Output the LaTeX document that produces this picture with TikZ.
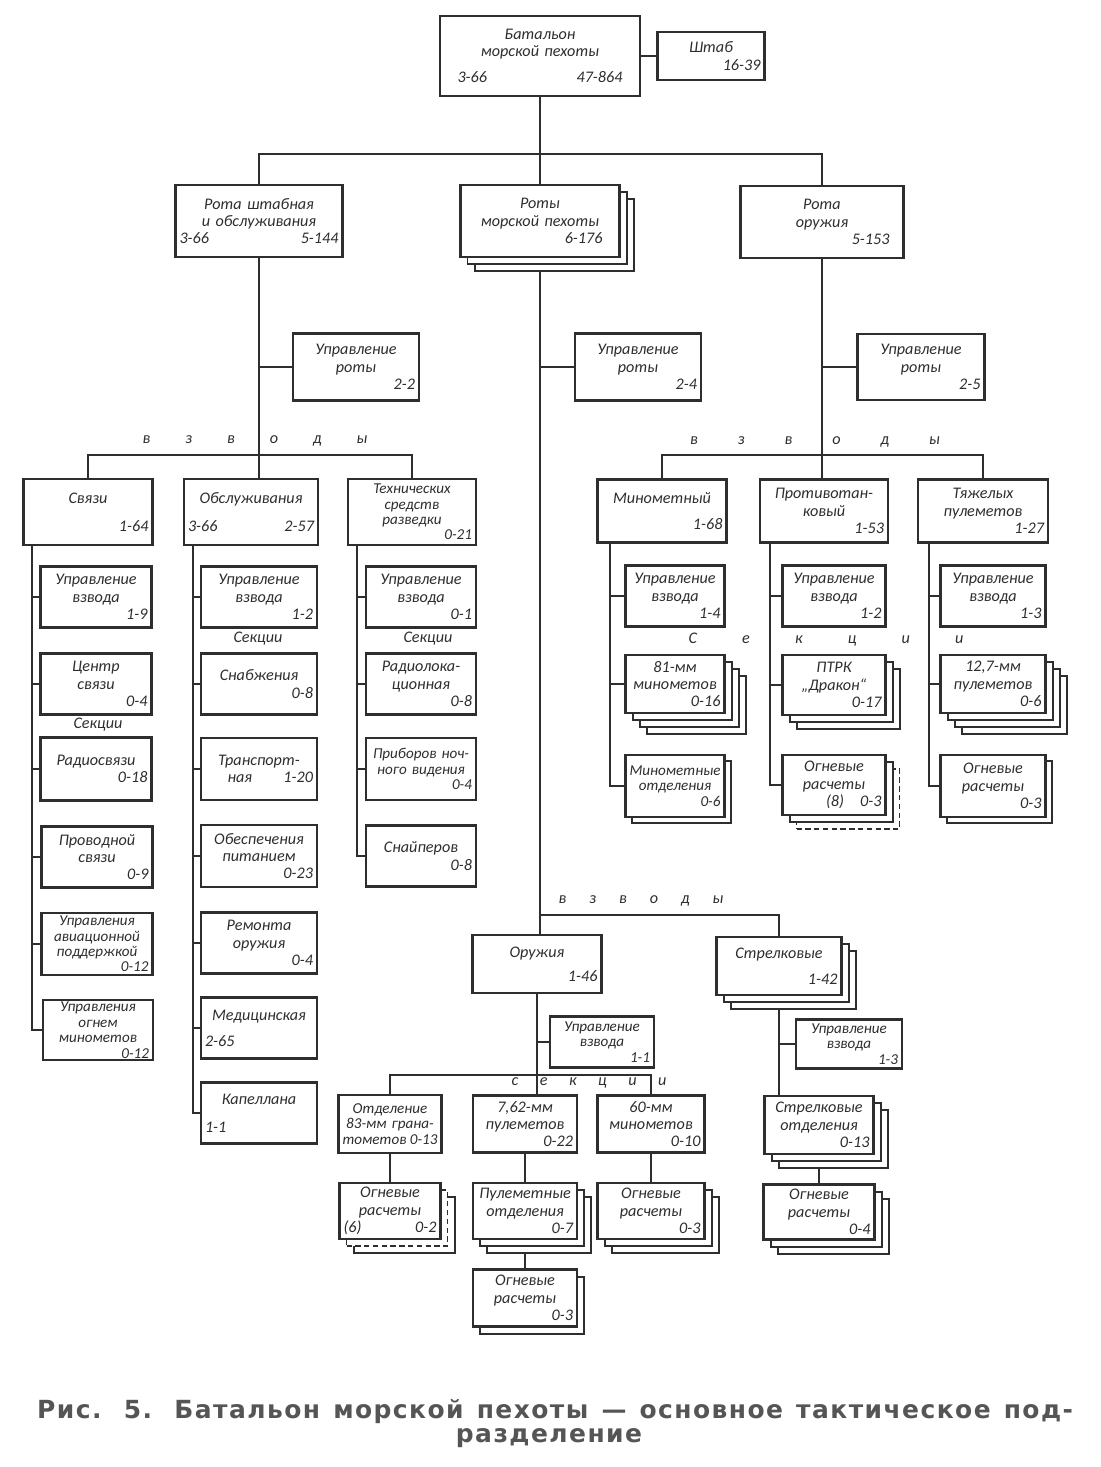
\documentclass[tikz,border=0pt]{standalone}
\usepackage{fontspec}
\setmainfont{Carlito}
\newfontfamily\capfont[LetterSpace=5.8]{DejaVu Sans}
\usepackage{tikz}
\usetikzlibrary{shadows,backgrounds}

\definecolor{ink}{HTML}{2E2E2E}
\definecolor{capgray}{HTML}{555555}
\newcommand\boxfont{\fontsize{9.2}{9.8}\selectfont\itshape}
\newcommand\tightfont{\fontsize{8.6}{8.8}\selectfont\itshape}
\newcommand\rnum{\leavevmode\hfill}

\begin{document}
\begin{tikzpicture}[
        x=0.02cm, y=-0.02cm,
        box/.style={draw=ink, line width=1.3pt, fill=white, inner sep=1pt, align=center, font=\boxfont, text=ink},
        sz/.code 2 args={\pgfmathsetmacro\bw{#1*0.02}\pgfmathsetmacro\bh{#2*0.02}\pgfmathsetmacro\tw{#1*0.02-0.16}%
            \edef\szargs{minimum width=\bw cm,minimum height=\bh cm,text width=\tw cm}\expandafter\tikzset\expandafter{\szargs}},
        lay/.style={general shadow={shadow scale=1, shadow xshift=#1, shadow yshift=-#1, draw=ink, line width=1.1pt, fill=white}},
        layd/.style={general shadow={shadow scale=1, shadow xshift=#1, shadow yshift=-#1, draw=ink, line width=1pt, dash pattern=on 3pt off 2pt, fill=white}},
        link/.style={draw=ink, line width=0.9pt},
        lett/.style={font=\boxfont, text=ink, inner sep=0pt},
        capt/.style={font=\capfont\bfseries\fontsize{14.2}{16}\selectfont, text=capgray, inner sep=0pt}
    ]
    \useasboundingbox (0,0) rectangle (1100,1467);

    % Battalion
    \node[box, sz={200}{80}, text width=3.3cm] (bat) at (540,56) {Батальон\\морской пехоты\\[5pt]3-66\hfill 47-864};
    \node[box, sz={107}{48}] (shtab) at (711,56) {Штаб\\\rnum 16-39};

    % Companies
    \node[box, sz={167}{72}] (rsh) at (259,221) {Рота штабная\\и обслуживания\\3-66\hfill 5-144};
    \node[box, sz={159}{72}, text width=2.5cm, lay=8pt, lay=4pt] (rmp) at (540,221) {Роты\\морской пехоты\\\rnum 6-176};
    \node[box, sz={163}{72}, text width=2.7cm] (ror) at (822,222) {Рота\\оружия\\\rnum 5-153};

    % Company headquarters
    \node[box, sz={126}{67}] (upr1) at (356,367) {Управление\\роты\\\rnum 2-2};
    \node[box, sz={126}{67}] (upr2) at (638,367) {Управление\\роты\\\rnum 2-4};
    \node[box, sz={127}{66}] (upr3) at (921,367) {Управление\\роты\\\rnum 2-5};

    % Platoons of the HQ company
    \node[lett] (vzl1) at (255,441) {\makebox[4.5cm][s]{в з в о д ы}};
    \node[box, sz={129}{66}] (svz) at (88,512) {Связи\\[6pt]\rnum 1-64};
    \node[box, sz={134}{66}] (obs) at (251,512) {Обслуживания\\[6pt]3-66\hfill 2-57};
    \node[box, sz={128}{66}, font=\tightfont] (tsr) at (412,512) {Технических\\средств\\разведки\\\rnum 0-21};

    % Signal platoon
    \node[box, sz={111}{61}] (s1) at (96,597) {Управление\\взвода\\\rnum 1-9};
    \node[box, sz={111}{61}] (s2) at (96,684) {Центр\\связи\\\rnum 0-4};
    \node[lett] (sek1) at (98,725) {Секции};
    \node[box, sz={111}{63}] (s3) at (96,769) {Радиосвязи\\\rnum 0-18};
    \node[box, sz={111}{61}] (s4) at (97,857) {Проводной\\связи\\\rnum 0-9};
    \node[box, sz={111}{62}, font=\tightfont] (s5) at (97,944) {Управления\\авиационной\\поддержкой\\\rnum 0-12};
    \node[box, sz={110}{60}, font=\tightfont] (s6) at (98,1030) {Управления\\огнем\\минометов\\\rnum 0-12};

    % Service platoon
    \node[box, sz={116}{61}] (o1) at (259,597) {Управление\\взвода\\\rnum 1-2};
    \node[lett] (sek2) at (258,639) {Секции};
    \node[box, sz={116}{61}] (o2) at (259,684) {Снабжения\\\rnum 0-8};
    \node[box, sz={116}{62}] (o3) at (259,769) {Транспорт-\\\hspace*{1.4em}ная\hfill 1-20};
    \node[box, sz={116}{62}] (o4) at (259,856) {Обеспечения\\питанием\\\rnum 0-23};
    \node[box, sz={116}{61}] (o5) at (259,943) {Ремонта\\оружия\\\rnum 0-4};
    \node[box, sz={116}{61}] (o6) at (259,1028) {Медицинская\\[5pt]2-65\hfill\null};
    \node[box, sz={116}{61}] (o7) at (259,1113) {Капеллана\\[6pt]1-1\hfill\null};

    % Reconnaissance platoon
    \node[box, sz={110}{61}] (r1) at (421,597) {Управление\\взвода\\\rnum 0-1};
    \node[lett] (sek3) at (428,639) {Секции};
    \node[box, sz={110}{61}] (r2) at (421,684) {Радиолока-\\ционная\\\rnum 0-8};
    \node[box, sz={110}{62}, font=\tightfont] (r3) at (421,769) {Приборов ноч-\\ного видения\\\rnum 0-4};
    \node[box, sz={110}{61}] (r4) at (421,856) {Снайперов\\\rnum 0-8};

    % Platoons of the weapons company
    \node[lett] (vzl3) at (815,442) {\makebox[5.0cm][s]{в з в о д ы}};
    \node[box, sz={129}{63}] (min) at (662,511) {Минометный\\[5pt]\rnum 1-68};
    \node[box, sz={128}{63}] (ptk) at (824,511) {Противотан-\\ковый\\\rnum 1-53};
    \node[box, sz={130}{63}] (tyz) at (983,511) {Тяжелых\\пулеметов\\\rnum 1-27};
    \node[lett] (sek4) at (826,640) {\makebox[5.5cm][s]{С е к ц и и}};

    \node[box, sz={99}{61}] (m1) at (675,596) {Управление\\взвода\\\rnum 1-4};
    \node[box, sz={99}{58}, lay=12pt, lay=8pt, lay=4pt] (m2) at (675,684) {81-мм\\минометов\\\rnum 0-16};
    \node[box, sz={99}{62}, font=\tightfont, lay=3.5pt] (m3) at (675,786) {Минометные\\отделения\\\rnum 0-6};

    \node[box, sz={103}{61}] (p1) at (834,596) {Управление\\взвода\\\rnum 1-2};
    \node[box, sz={103}{60}, lay=8pt, lay=4pt] (p2) at (834,685) {ПТРК\\„Дракон“\\\rnum 0-17};
    \node[box, sz={103}{60}, layd=8pt, lay=4pt] (p3) at (834,785) {Огневые\\расчеты\\\rnum (8)\quad 0-3};

    \node[box, sz={105}{61}] (y1) at (993,596) {Управление\\взвода\\\rnum 1-3};
    \node[box, sz={105}{58}, lay=12pt, lay=8pt, lay=4pt] (y2) at (993,684) {12,7-мм\\пулеметов\\\rnum 0-6};
    \node[box, sz={105}{62}, lay=3.5pt] (y3) at (993,786) {Огневые\\расчеты\\\rnum 0-3};

    % Platoons of the rifle company
    \node[lett] (vzl2) at (641,901) {\makebox[3.3cm][s]{в з в о д ы}};
    \node[box, sz={129}{58}] (oru) at (537,964) {Оружия\\[4pt]\rnum 1-46};
    \node[box, sz={125}{58}, lay=8pt, lay=4pt] (stk) at (779,966) {Стрелковые\\[5pt]\rnum 1-42};
    \node[box, sz={104}{51}, font=\tightfont] (uv1) at (602,1042) {Управление\\взвода\\\rnum 1-1};
    \node[box, sz={106}{49}, font=\tightfont] (uv2) at (849,1044) {Управление\\взвода\\\rnum 1-3};

    % Sections
    \node[box, sz={103}{58}, font=\tightfont] (otd) at (390,1124) {Отделение\\83-мм грана-\\тометов\hfill 0-13};
    \node[box, sz={104}{57}] (p762) at (525,1124) {7,62-мм\\пулеметов\\\rnum 0-22};
    \node[box, sz={107}{57}] (m60) at (651,1124) {60-мм\\минометов\\\rnum 0-10};
    \node[box, sz={109}{58}, lay=8pt, lay=4pt] (sto) at (819,1125) {Стрелковые\\отделения\\\rnum 0-13};

    \node[box, sz={101}{56}, lay=8pt, layd=4pt] (og6) at (390,1211) {Огневые\\расчеты\\(6)\hfill 0-2};
    \node[box, sz={104}{56}, lay=8pt, lay=4pt] (pul) at (525,1211) {Пулеметные\\отделения\\\rnum 0-7};
    \node[box, sz={104}{57}, lay=4pt] (og3a) at (525,1298) {Огневые\\расчеты\\\rnum 0-3};
    \node[box, sz={107}{56}, lay=8pt, lay=4pt] (og3b) at (651,1211) {Огневые\\расчеты\\\rnum 0-3};
    \node[box, sz={111}{55}, lay=8pt, lay=4pt] (og4) at (819,1212) {Огневые\\расчеты\\\rnum 0-4};

    \coordinate (bus1) at (540,154);
    \coordinate (vz1) at (259,455);
    \coordinate (vz3) at (822,455);
    \coordinate (vz2) at (540,915);
    \coordinate (sc) at (537,1075);
    \coordinate (c1) at (32,545);
    \coordinate (c2) at (193,545);
    \coordinate (c3) at (357,545);
    \coordinate (c4) at (610,543);
    \coordinate (c5) at (770,543);
    \coordinate (c6) at (929,543);

    \node[lett] (sekc) at (589,1083) {\makebox[3.1cm][s]{с е к ц и и}};

    % Connectors
    \begin{pgfonlayer}{background}
    \draw[link] (bat) -- (shtab);
    \draw[link] (bat) -- (bus1);
    \draw[link] (rsh) |- (bus1) -| (ror);
    \draw[link] (rmp) -- (bus1);

    \draw[link] (rsh) -- (rsh |- obs.north);
    \draw[link] (upr1) -- (upr1 -| rsh);
    \draw[link] (svz) |- (vz1) -| (tsr);
    \draw[link] (c1) |- (s6);
    \foreach \n in {s1,s2,s3,s4,s5} \draw[link] (\n) -- (\n -| c1);
    \draw[link] (c2) |- (o7);
    \foreach \n in {o1,o2,o3,o4,o5,o6} \draw[link] (\n) -- (\n -| c2);
    \draw[link] (c3) |- (r4);
    \foreach \n in {r1,r2,r3} \draw[link] (\n) -- (\n -| c3);

    \draw[link] (ror) -- (ror |- ptk.north);
    \draw[link] (upr3) -- (upr3 -| ror);
    \draw[link] (min) |- (vz3) -| (tyz);
    \draw[link] (c4) |- (m3);
    \foreach \n in {m1,m2} \draw[link] (\n) -- (\n -| c4);
    \draw[link] (c5) |- (p3);
    \foreach \n in {p1,p2} \draw[link] (\n) -- (\n -| c5);
    \draw[link] (c6) |- (y3);
    \foreach \n in {y1,y2} \draw[link] (\n) -- (\n -| c6);

    \draw[link] (rmp) -- (rmp |- oru.north);
    \draw[link] (upr2) -- (upr2 -| rmp);
    \draw[link] (vz2) -| (stk);
    \draw[link] (oru) -- (oru |- p762.north);
    \draw[link] (uv1) -- (uv1 -| oru);
    \draw[link] (otd) |- (sc) -| (m60);
    \draw[link] (otd) -- (og6);
    \draw[link] (p762) -- (pul);
    \draw[link] (pul) -- (og3a);
    \draw[link] (m60) -- (og3b);
    \draw[link] (stk) -- (stk |- sto.north);
    \draw[link] (uv2) -- (uv2 -| stk);
    \draw[link] (sto) -- (og4);
    \end{pgfonlayer}

    % Caption
    \node[capt] (cap1) at (555,1412) {\makebox[20.72cm][s]{Рис. 5. Батальон морской пехоты — основное тактическое под-}};
    \node[capt] (cap2) at (549,1438) {разделение};

\end{tikzpicture}
\end{document}
